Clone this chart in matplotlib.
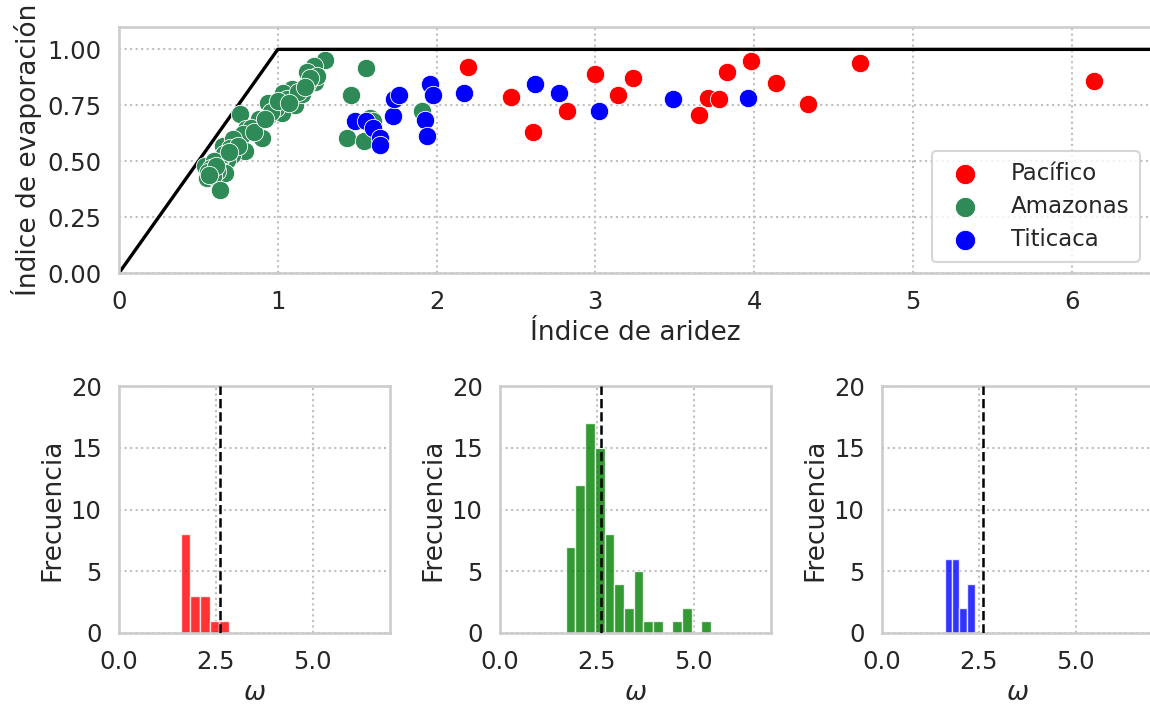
import numpy as np
import matplotlib
matplotlib.use("Agg")
import matplotlib.pyplot as plt
import seaborn as sns

# ---------------- data ----------------
pac_x = [2.20, 2.47, 2.61, 2.82, 3.00, 3.14, 3.24, 3.65, 3.71, 3.78, 3.83, 3.98, 4.14, 4.34, 4.67, 6.14]
pac_y = [0.922, 0.786, 0.632, 0.726, 0.892, 0.797, 0.874, 0.707, 0.782, 0.779, 0.901, 0.946, 0.848, 0.755, 0.937, 0.858]

ama_x = [1.296, 1.226, 1.184, 1.232, 1.184, 1.117, 1.090, 1.033, 1.110, 1.026,
         0.938, 0.936, 0.763, 0.864, 0.801, 0.900, 0.795, 0.652, 0.742, 0.711,
         0.683, 0.627, 0.543, 0.669, 0.616, 0.553, 0.595, 0.637, 1.464, 1.437,
         1.556, 1.541, 1.580, 1.600, 1.910, 1.250, 1.200, 1.150, 1.060, 0.990,
         0.960, 0.880, 0.830, 0.780, 0.720, 0.700, 0.660, 0.600, 0.580, 0.560,
         1.000, 1.130, 1.170, 0.850, 0.750, 0.690, 0.610, 0.570, 0.920, 1.070]
ama_y = [0.951, 0.925, 0.898, 0.854, 0.843, 0.794, 0.821, 0.806, 0.753, 0.716,
         0.758, 0.704, 0.709, 0.664, 0.644, 0.604, 0.544, 0.570, 0.589, 0.529,
         0.507, 0.492, 0.477, 0.447, 0.454, 0.425, 0.432, 0.372, 0.798, 0.604,
         0.918, 0.589, 0.694, 0.679, 0.724, 0.880, 0.870, 0.800, 0.780, 0.740,
         0.720, 0.690, 0.650, 0.620, 0.600, 0.560, 0.530, 0.500, 0.470, 0.450,
         0.770, 0.810, 0.830, 0.630, 0.570, 0.540, 0.480, 0.440, 0.690, 0.760]

tit_x = [1.489, 1.556, 1.600, 1.642, 1.642, 1.724, 1.731, 1.762, 1.929, 1.941,
         1.958, 1.979, 2.175, 2.618, 2.774, 3.024, 3.491, 3.962]
tit_y = [0.679, 0.679, 0.647, 0.604, 0.574, 0.701, 0.776, 0.794, 0.682, 0.611,
         0.846, 0.797, 0.803, 0.843, 0.804, 0.723, 0.776, 0.782]

budyko_x = [0.0, 1.0, 6.6]
budyko_y = [0.0, 1.0, 1.0]

omega_ref = 2.6

pac_edges = [1.59, 1.84, 2.09, 2.34, 2.59, 2.84]
pac_counts = [8, 3, 3, 1, 1]
ama_edges = [1.70, 1.95, 2.20, 2.45, 2.70, 2.95, 3.20, 3.45, 3.70, 3.95, 4.20, 4.45, 4.70, 4.95, 5.20, 5.45]
ama_counts = [7, 12, 17, 15, 8, 4, 2, 5, 1, 1, 0, 1, 2, 0, 1]
tit_edges = [1.62, 1.81, 2.00, 2.20, 2.39]
tit_counts = [6, 6, 2, 4]

labels = ["Pacífico", "Amazonas", "Titicaca"]
scatter_colors = ["red", "seagreen", "blue"]
hist_colors = ["red", "green", "blue"]

# ---------------- style ----------------
sns.set_theme(context="talk", style="whitegrid",
              rc={"grid.linestyle": ":", "grid.color": ".75",
                  "xtick.labelsize": 17.5, "ytick.labelsize": 17.5,
                  "axes.labelsize": 19, "legend.fontsize": 16.5})
plt.rcParams["font.family"] = ["DejaVu Sans"]

W, H = 1150, 708
fig = plt.figure(figsize=(W / 100, H / 100), dpi=100)

def px_axes(l, t, r, b):
    return fig.add_axes([l / W, 1 - b / H, (r - l) / W, (b - t) / H])

# ---------------- top scatter ----------------
ax = px_axes(119, 27, 1151, 273)
ax.plot(budyko_x, budyko_y, color="black", lw=2.4, zorder=2)
for xs, ys, c, lab in zip([pac_x, ama_x, tit_x], [pac_y, ama_y, tit_y], scatter_colors, labels):
    ax.scatter(xs, ys, s=175, color=c, edgecolor="white", linewidth=0.6, label=lab, zorder=3)
ax.set_xlim(0, 6.5)
ax.set_ylim(0, 1.1)
ax.set_xticks([0, 1, 2, 3, 4, 5, 6])
ax.set_yticks([0, 0.25, 0.5, 0.75, 1.0])
ax.set_yticklabels(["0.00", "0.25", "0.50", "0.75", "1.00"])
ax.set_xlabel("Índice de aridez")
ax.set_ylabel("Índice de evaporación")
leg = ax.legend(loc="lower right", frameon=True, markerscale=1.1,
                handletextpad=1.0, borderpad=0.45, labelspacing=0.45)

# ---------------- histograms ----------------
lefts = [119, 500, 882]
for left, edges, counts, c in zip(lefts,
                                  [pac_edges, ama_edges, tit_edges],
                                  [pac_counts, ama_counts, tit_counts],
                                  hist_colors):
    hx = px_axes(left, 386, left + 271, 633)
    e = np.array(edges)
    hx.bar(e[:-1], counts, width=np.diff(e), align="edge", color=c, alpha=0.8,
           edgecolor="white", linewidth=1, zorder=2)
    hx.axvline(omega_ref, color="black", ls="--", lw=1.8, zorder=3)
    hx.set_xlim(0, 7)
    hx.set_ylim(0, 20)
    hx.set_xticks([0, 2.5, 5.0])
    hx.set_xticklabels(["0.0", "2.5", "5.0"])
    hx.set_yticks([0, 5, 10, 15, 20])
    hx.set_xlabel(r"$\omega$")
    hx.set_ylabel("Frecuencia")

fig.savefig("out.png", dpi=100)
